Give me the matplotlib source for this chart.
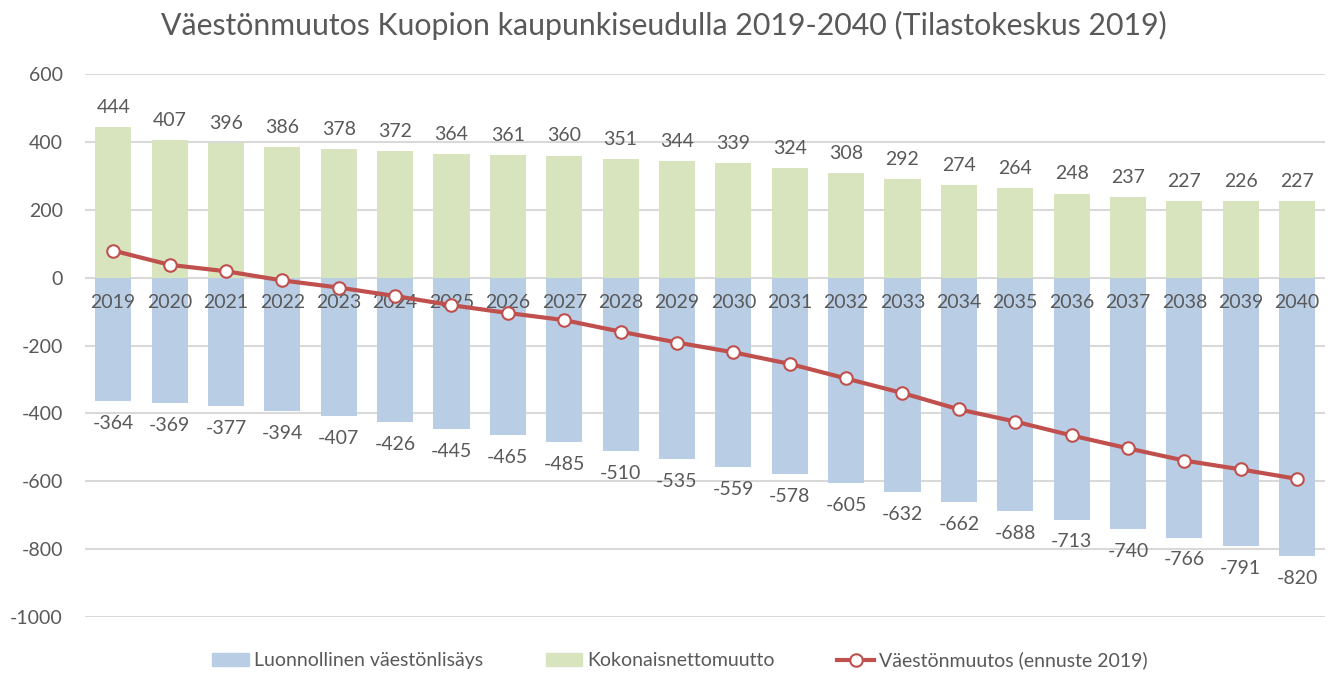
import matplotlib
matplotlib.use("Agg")
import matplotlib.pyplot as plt
from matplotlib.lines import Line2D
from matplotlib.patches import Patch

years = ["2019", "2020", "2021", "2022", "2023", "2024", "2025", "2026", "2027", "2028", "2029",
         "2030", "2031", "2032", "2033", "2034", "2035", "2036", "2037", "2038", "2039", "2040"]
natural = [-364, -369, -377, -394, -407, -426, -445, -465, -485, -510, -535,
           -559, -578, -605, -632, -662, -688, -713, -740, -766, -791, -820]
migration = [444, 407, 396, 386, 378, 372, 364, 361, 360, 351, 344,
             339, 324, 308, 292, 274, 264, 248, 237, 227, 226, 227]
change = [80, 38, 19, -8, -29, -54, -81, -104, -125, -159, -191,
          -220, -254, -297, -340, -388, -424, -465, -503, -539, -565, -593]
yticks = [600, 400, 200, 0, -200, -400, -600, -800, -1000]

plt.rcParams['font.family'] = ['Lato', 'DejaVu Sans']
txt = '#595959'
blue = '#B9CDE5'
green = '#D7E4BD'
red = '#C0504D'

fig = plt.figure(figsize=(13.28, 6.74), dpi=100)
ax = fig.add_axes([0.064, 0.0846, 0.934, 0.8054])
x = list(range(len(years)))

ax.bar(x, natural, width=0.64, color=blue, zorder=2)
ax.bar(x, migration, width=0.64, color=green, zorder=2)
ax.plot(x, change, color=red, lw=3, marker='o', ms=9, mfc='white', mec=red, mew=1.5, zorder=4)

for i, v in enumerate(migration):
    ax.annotate(str(v), (i, v), xytext=(0, 8), textcoords='offset points', ha='center', va='bottom',
                fontsize=14, color=txt)
for i, v in enumerate(natural):
    ax.annotate(str(v), (i, v), xytext=(0, -10), textcoords='offset points', ha='center', va='top',
                fontsize=14, color=txt)
for i, y in enumerate(years):
    ax.annotate(y, (i, 0), xytext=(0, -18), textcoords='offset points', ha='center', va='center',
                fontsize=14, color=txt, zorder=3)

ax.set_xlim(-0.5, len(years) - 0.5)
ax.set_ylim(-1000, 600)
ax.set_yticks(yticks)
ax.set_yticklabels([str(t) for t in yticks], fontsize=14, color=txt)
ax.set_xticks([])
ax.tick_params(axis='y', length=0, pad=16)
ax.grid(axis='y', color='#D9D9D9', lw=1.5, zorder=0)
ax.set_axisbelow(True)
for s in ax.spines.values():
    s.set_visible(False)

fig.text(0.5, 0.962, "Väestönmuutos Kuopion kaupunkiseudulla 2019-2040 (Tilastokeskus 2019)",
         ha='center', va='center', fontsize=21.8, color=txt)

handles = [Patch(color=blue), Patch(color=green),
           Line2D([], [], color=red, lw=3, marker='o', ms=9, mfc='white', mec=red, mew=1.5)]
labels = ["Luonnollinen väestönlisäys", "Kokonaisnettomuutto", "Väestönmuutos (ennuste 2019)"]
fig.legend(handles, labels, loc='center', bbox_to_anchor=(0.512, 0.02), ncol=3, frameon=False,
           fontsize=14, labelcolor=txt, columnspacing=3.2, handlelength=1.9, handletextpad=0.25)

fig.savefig("out.png", dpi=100)
